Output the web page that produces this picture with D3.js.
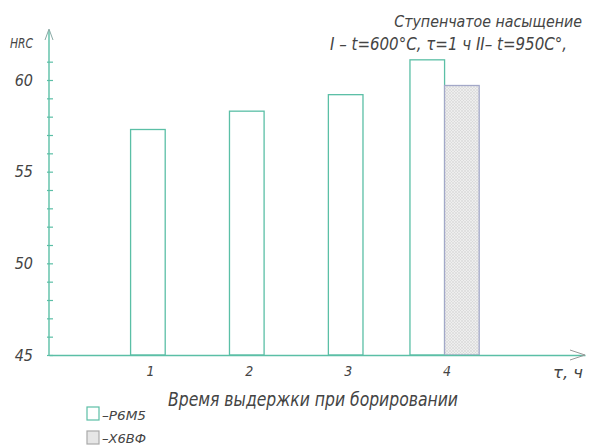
<!DOCTYPE html>
<html>
<head>
<meta charset="utf-8">
<script src="https://cdn.jsdelivr.net/npm/d3@7"></script>
<style>
  body { margin: 0; background: #fff; }
  text { font-family: "DejaVu Sans Condensed", "Liberation Sans Narrow", sans-serif; font-style: italic; font-weight: normal; fill: #444; }
</style>
</head>
<body>
<div id="container"></div>
<script>
const categories = [1, 2, 3, 4];
const seriesNames = ['Р6М5', 'Х6ВФ'];
const hardnessP6M5 = [57.3, 58.3, 59.2, 61.1];
const hardnessX6VF = [null, null, null, 59.7];
const yLabelTicks = [45, 50, 55, 60];
const yMinorTicks = d3.range(45, 62, 1);

const TEAL = '#5bbfa6';
const width = 590, height = 446;

const svg = d3.select('#container').append('svg')
  .attr('width', width)
  .attr('height', height);

const defs = svg.append('defs');
const hatch = defs.append('pattern')
  .attr('id', 'hatch')
  .attr('patternUnits', 'userSpaceOnUse')
  .attr('width', 3)
  .attr('height', 3);
hatch.append('rect').attr('width', 3).attr('height', 3).attr('fill', '#eeeeee');
hatch.append('path').attr('d', 'M0,3 L3,0 M0,0 L3,3').attr('stroke', '#d2d2d2').attr('stroke-width', 0.5);

const x = d3.scaleLinear().domain([0, 5.42]).range([49, 585]);
const y = d3.scaleLinear().domain([45, 60]).range([355, 80]);
const barW = x(0.35) - x(0);

// bars: single bar centred on the tick, pair split at the tick
const bars = [];
categories.forEach((c, i) => {
  const pair = hardnessX6VF[i] != null;
  bars.push({ c, v: hardnessP6M5[i], x0: pair ? x(c) - barW : x(c) - barW / 2, s: 0 });
  if (pair) bars.push({ c, v: hardnessX6VF[i], x0: x(c), s: 1 });
});

svg.append('g')
  .selectAll('rect')
  .data(bars)
  .join('rect')
    .attr('x', d => d.x0)
    .attr('y', d => y(d.v))
    .attr('width', barW)
    .attr('height', d => y(45) - y(d.v))
    .attr('fill', d => d.s ? 'url(#hatch)' : '#fff')
    .attr('stroke', d => d.s ? '#a3a8c8' : TEAL)
    .attr('stroke-width', 1.3);

// y axis
const yAxis = svg.append('g')
  .attr('transform', `translate(${x(0)},0)`)
  .call(d3.axisLeft(y)
    .tickValues(yMinorTicks)
    .tickSize(-4)
    .tickPadding(16)
    .tickFormat(d => yLabelTicks.includes(d) ? d : ''));
yAxis.select('.domain').remove();
yAxis.selectAll('line').attr('stroke', TEAL).attr('stroke-width', 1.2).attr('x1', -2);
yAxis.selectAll('text').attr('font-size', 16).attr('font-family', null).style('fill', '#444');

svg.append('line')
  .attr('x1', x(0)).attr('x2', x(0))
  .attr('y1', y(45)).attr('y2', 30)
  .attr('stroke', TEAL).attr('stroke-width', 1.4);
svg.append('path')
  .attr('d', `M${x(0) - 4},40 L${x(0)},29 L${x(0) + 4},40`)
  .attr('fill', 'none').attr('stroke', '#8aaaa6').attr('stroke-width', 1);

// x axis
const xAxis = svg.append('g')
  .attr('transform', `translate(0,${y(45)})`)
  .call(d3.axisBottom(x)
    .tickValues(categories)
    .tickSize(0)
    .tickSizeOuter(0)
    .tickPadding(11)
    .tickFormat(d3.format('d')));
xAxis.select('.domain').attr('stroke', TEAL).attr('stroke-width', 1.4);
xAxis.selectAll('text').attr('font-size', 14).attr('font-family', null).attr('dx', 2).style('fill', '#444');
svg.append('path')
  .attr('d', `M${x.range()[1] - 15},350 L${x.range()[1]},355 L${x.range()[1] - 15},360`)
  .attr('fill', 'none').attr('stroke', '#999').attr('stroke-width', 1);

// texts
const label = (t, px, py, size, len) => svg.append('text')
  .attr('x', px).attr('y', py)
  .attr('font-size', size)
  .attr('textLength', len)
  .attr('lengthAdjust', 'spacingAndGlyphs')
  .text(t);

// title line: font size fitted so its natural width ends at the right margin
const title = svg.append('text')
  .attr('x', 582).attr('y', 27)
  .attr('text-anchor', 'end')
  .attr('font-size', 18)
  .text('Ступенчатое насыщение');
const tw = title.node().getComputedTextLength();
title.attr('font-size', 18 * 188 / tw);

label('I – t=600°C, τ=1 ч   II– t=950C°,', 330, 50, 18, 237);
label('HRC', 10, 48, 14, 23);
label('τ, ч', 553, 378, 15, 30);
label('Время выдержки при борировании', 168, 406, 19, 290);

// legend
const legend = svg.append('g').attr('transform', 'translate(87,407)');
legend.selectAll('rect')
  .data(seriesNames)
  .join('rect')
    .attr('x', 0)
    .attr('y', (d, i) => i * 24)
    .attr('width', 12)
    .attr('height', 13)
    .attr('fill', (d, i) => i ? '#e6e6e6' : '#fff')
    .attr('stroke', (d, i) => i ? '#aaa' : TEAL)
    .attr('stroke-width', 1.2);
legend.selectAll('text')
  .data(seriesNames)
  .join('text')
    .attr('x', 15)
    .attr('y', (d, i) => 13 + i * 23)
    .attr('font-size', 13)
    .attr('textLength', 44)
    .attr('lengthAdjust', 'spacingAndGlyphs')
    .text(d => '–' + d);
</script>
</body>
</html>
